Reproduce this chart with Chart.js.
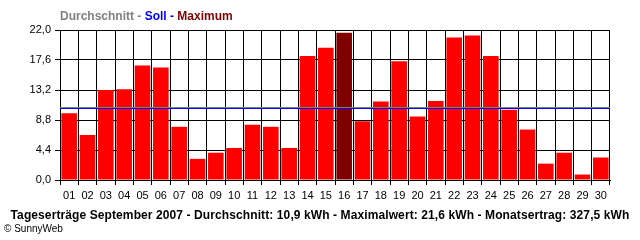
<!DOCTYPE html>
<html>
<head>
<meta charset="utf-8">
<script src="https://cdn.jsdelivr.net/npm/chart.js@4/dist/chart.umd.min.js"></script>
<style>
  body { margin: 0; background: #fff; }
  #wrap { position: relative; width: 640px; height: 240px; }
  #title { position: absolute; left: 60px; top: 9px; font: bold 12px "Liberation Sans", Arial, sans-serif; white-space: nowrap; }
  #footer { position: absolute; left: 0; width: 640px; top: 208px; text-align: center; font: bold 12px "Liberation Sans", Arial, sans-serif; letter-spacing: 0.1px; white-space: nowrap; }
  #copy { position: absolute; left: 4px; top: 223px; font: 10px "Liberation Sans", Arial, sans-serif; }
</style>
</head>
<body>
<div id="wrap">
  <canvas id="chart" width="640" height="240"></canvas>
  <div id="title"><span style="color:#808080">Durchschnitt -</span><span style="color:#0000ff"> Soll -</span><span style="color:#800000"> Maximum</span></div>
  <div id="footer">Tageserträge September 2007 - Durchschnitt: 10,9 kWh - Maximalwert: 21,6 kWh - Monatsertrag: 327,5 kWh</div>
  <div id="copy">© SunnyWeb</div>
</div>
<script>
'use strict';
// ******* DATA ********
let days = ['01', '02', '03', '04', '05', '06', '07', '08', '09', '10',
  '11', '12', '13', '14', '15', '16', '17', '18', '19', '20',
  '21', '22', '23', '24', '25', '26', '27', '28', '29', '30'];
let dailyYield = [9.8, 6.6, 13.2, 13.3, 16.8, 16.5, 7.8, 3.1, 4.0, 4.7,
  8.1, 7.8, 4.7, 18.2, 19.4, 21.6, 8.6, 11.5, 17.4, 9.3,
  11.6, 20.9, 21.2, 18.2, 10.3, 7.4, 2.4, 4.0, 0.8, 3.3];
let yTicks = [0, 4.4, 8.8, 13.2, 17.6, 22.0];
let averageValue = 10.7;
let targetValue = 10.55;

// ******* HELPERS ********
let maxValue = Math.max(...dailyYield);
let barColors = dailyYield.map(v => v === maxValue ? '#800000' : '#ff0000');

// draws the average (gray) and target (blue) lines over the bars
let refLines = {
  id: 'refLines',
  afterDatasetsDraw(chart) {
    let ctx = chart.ctx;
    let area = chart.chartArea;
    let y = chart.scales.y;
    let lines = [[averageValue, '#808080'], [targetValue, '#0000ff']];
    ctx.save();
    ctx.lineWidth = 1;
    for (let i = 0; i < lines.length; i++) {
      let py = Math.round(y.getPixelForValue(lines[i][0])) + 0.5;
      ctx.strokeStyle = lines[i][1];
      ctx.beginPath();
      ctx.moveTo(area.left, py);
      ctx.lineTo(area.right, py);
      ctx.stroke();
    }
    ctx.restore();
  }
};

// ******* CHART ********
let tickFont = { family: '"Liberation Sans", Arial, sans-serif', size: 11 };

new Chart(document.getElementById('chart'), {
  type: 'bar',
  data: {
    labels: days,
    datasets: [{
      data: dailyYield,
      backgroundColor: barColors,
      borderWidth: 0,
      barPercentage: 0.85,
      categoryPercentage: 1
    }]
  },
  options: {
    responsive: false,
    animation: false,
    layout: { padding: { left: 0, right: 30, top: 30, bottom: 35 } },
    plugins: { legend: { display: false }, tooltip: { enabled: false } },
    scales: {
      x: {
        grid: { color: '#000', lineWidth: 1, tickLength: 5, offset: true },
        border: { color: '#000' },
        ticks: { color: '#000', font: tickFont, padding: 4, maxRotation: 0, autoSkip: false },
        afterFit(scale) { scale.height = 25; }
      },
      y: {
        min: 0,
        max: 22,
        grid: { color: '#000', lineWidth: 1, tickLength: 5 },
        border: { color: '#000' },
        ticks: {
          color: '#000',
          font: tickFont,
          padding: 4,
          callback: v => v.toFixed(1).replace('.', ',')
        },
        afterBuildTicks(scale) { scale.ticks = yTicks.map(v => ({ value: v })); },
        afterFit(scale) { scale.width = 60; }
      }
    }
  },
  plugins: [refLines]
});
</script>
</body>
</html>
